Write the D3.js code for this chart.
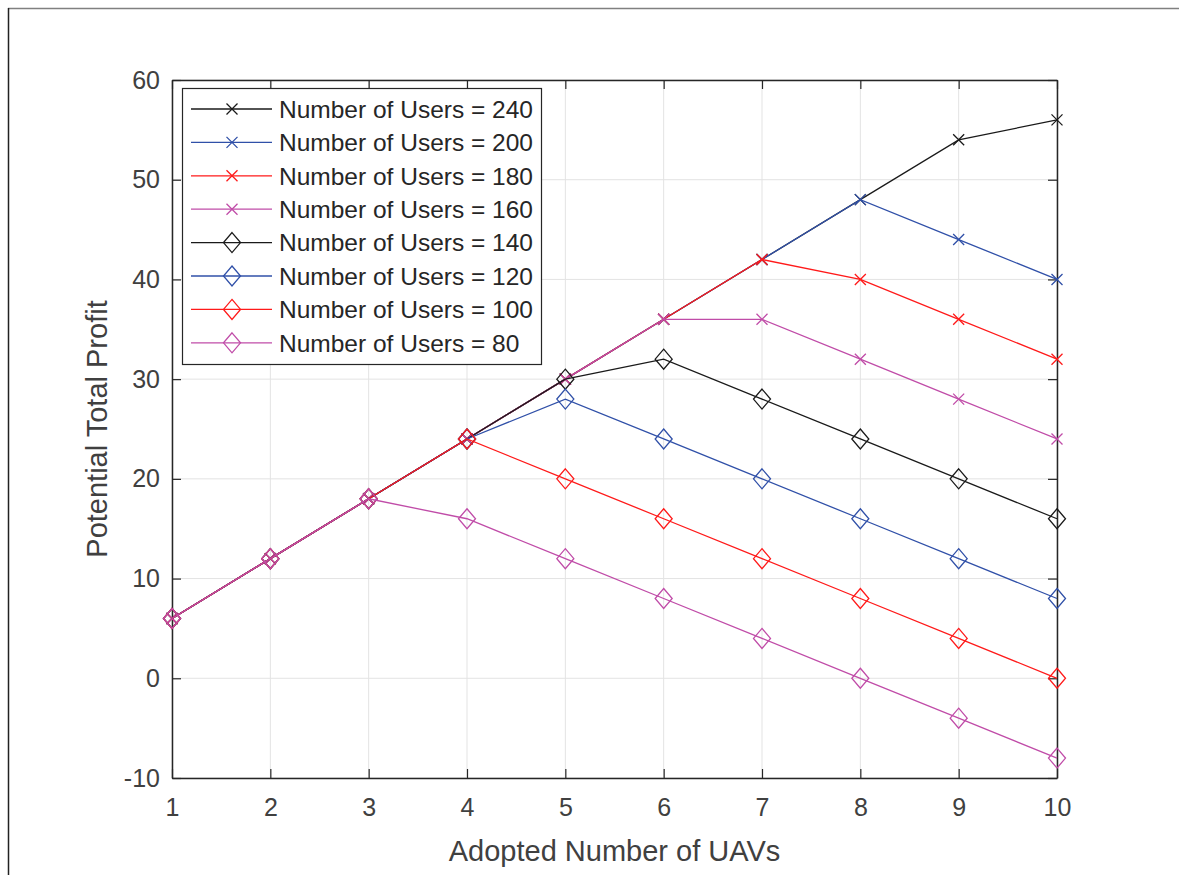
<!DOCTYPE html>
<html><head><meta charset="utf-8">
<script src="https://cdn.jsdelivr.net/npm/d3@7"></script>
<style>body{margin:0;background:#fff}svg{display:block}text{font-family:"Liberation Sans",Arial,sans-serif}</style>
</head><body><svg id="c" width="1179" height="875"></svg>
<script>
const uavs = [1,2,3,4,5,6,7,8,9,10];
const seriesNames = ["Number of Users = 240","Number of Users = 200","Number of Users = 180","Number of Users = 160","Number of Users = 140","Number of Users = 120","Number of Users = 100","Number of Users = 80"];
const users240 = [6,12,18,24,30,36,42,48,54,56];
const users200 = [6,12,18,24,30,36,42,48,44,40];
const users180 = [6,12,18,24,30,36,42,40,36,32];
const users160 = [6,12,18,24,30,36,36,32,28,24];
const users140 = [6,12,18,24,30,32,28,24,20,16];
const users120 = [6,12,18,24,28,24,20,16,12,8];
const users100 = [6,12,18,24,20,16,12,8,4,0];
const users80  = [6,12,18,16,12,8,4,0,-4,-8];
const yTicks = [-10,0,10,20,30,40,50,60];
const xTicks = [1,2,3,4,5,6,7,8,9,10];

const colors = ["#1a1a1a","#3050a8","#ff1a1a","#c04ca8","#1a1a1a","#3050a8","#ff1a1a","#c04ca8"];
const markers = ["x","x","x","x","d","d","d","d"];
const data = [users240,users200,users180,users160,users140,users120,users100,users80];

const svg = d3.select("#c");
const L=172,R=1057,T=80,B=778;
const x = d3.scaleLinear().domain([1,10]).range([L,R]);
const y = d3.scaleLinear().domain([-10,60]).range([B,T]);
const fmt = d=>String(d);

// outer frame
svg.append("line").attr("x1",8).attr("x2",1179).attr("y1",8.5).attr("y2",8.5).attr("stroke","#808080").attr("stroke-width",1.5);
svg.append("line").attr("x1",8.5).attr("x2",8.5).attr("y1",8).attr("y2",875).attr("stroke","#222").attr("stroke-width",1.5);

// grid
const g = svg.append("g");
g.selectAll(".gx").data(xTicks).join("line").attr("x1",d=>x(d)).attr("x2",d=>x(d)).attr("y1",T).attr("y2",B).attr("stroke","#e3e3e3").attr("stroke-width",1);
g.selectAll(".gy").data(yTicks).join("line").attr("y1",d=>y(d)).attr("y2",d=>y(d)).attr("x1",L).attr("x2",R).attr("stroke","#e3e3e3").attr("stroke-width",1);

// axes with inward ticks
const axC="#262626", tickC="#404040";
const xb = svg.append("g").attr("transform",`translate(0,${B})`).call(d3.axisBottom(x).tickValues(xTicks).tickSizeInner(-9).tickSizeOuter(0).tickPadding(20).tickFormat(fmt));
const xt = svg.append("g").attr("transform",`translate(0,${T})`).call(d3.axisTop(x).tickValues(xTicks).tickSizeInner(-9).tickSizeOuter(0).tickFormat(""));
const yl = svg.append("g").attr("transform",`translate(${L},0)`).call(d3.axisLeft(y).tickValues(yTicks).tickSizeInner(-9).tickSizeOuter(0).tickPadding(12).tickFormat(fmt));
const yr = svg.append("g").attr("transform",`translate(${R},0)`).call(d3.axisRight(y).tickValues(yTicks).tickSizeInner(-9).tickSizeOuter(0).tickFormat(""));
[xb,xt,yl,yr].forEach(a=>{
  a.attr("font-size",null).attr("font-family",null);
  a.select(".domain").attr("stroke",axC).attr("stroke-width",1.5);
  a.selectAll(".tick line").attr("stroke",axC).attr("stroke-width",1.2);
  a.selectAll(".tick text").attr("fill",tickC).style("font-size","25px");
});
xb.selectAll(".tick text").attr("y",20);

// lines
const line = d3.line().x((d,i)=>x(uavs[i])).y(d=>y(d));
function drawMarker(sel,type,color,cx,cy){
  if(type==="x"){
    const s=5.5;
    sel.append("path").attr("d",`M${cx-s},${cy-s}L${cx+s},${cy+s}M${cx-s},${cy+s}L${cx+s},${cy-s}`).attr("stroke",color).attr("stroke-width",1.3).attr("fill","none");
  } else {
    const w=8.5,h=10;
    sel.append("path").attr("d",`M${cx},${cy-h}L${cx+w},${cy}L${cx},${cy+h}L${cx-w},${cy}Z`).attr("stroke",color).attr("stroke-width",1.3).attr("fill","none");
  }
}
for(let k=0;k<data.length;k++){
  const s = svg.append("g");
  s.append("path").datum(data[k]).attr("d",line).attr("fill","none").attr("stroke",colors[k]).attr("stroke-width",1.3);
  data[k].forEach((v,i)=>drawMarker(s,markers[k],colors[k],x(uavs[i]),y(v)));
}

// legend
const lx=182, ly=88, lw=359, lh=276;
svg.append("rect").attr("x",lx+0.5).attr("y",ly+0.5).attr("width",lw).attr("height",lh).attr("fill","#fff").attr("stroke","#262626").attr("stroke-width",1.2);
seriesNames.forEach((n,k)=>{
  const cy = 109 + k*33.4;
  svg.append("line").attr("x1",191).attr("x2",272).attr("y1",cy).attr("y2",cy).attr("stroke",colors[k]).attr("stroke-width",1.3);
  drawMarker(svg,markers[k],colors[k],232,cy);
  svg.append("text").attr("x",279).attr("y",cy).attr("dy","0.36em").attr("fill","#262626").style("font-size","24.5px").text(n);
});

// axis labels
svg.append("text").attr("x",(L+R)/2).attr("y",861).attr("text-anchor","middle").attr("fill","#404040").style("font-size","29px").text("Adopted Number of UAVs");
svg.append("text").attr("transform",`translate(107,${(T+B)/2}) rotate(-90)`).attr("text-anchor","middle").attr("fill","#404040").style("font-size","29px").text("Potential Total Profit");
</script></body></html>
